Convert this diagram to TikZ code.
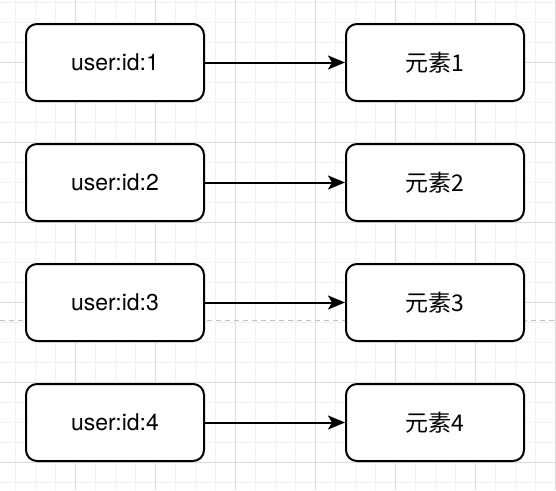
\documentclass[tikz,border=0pt]{standalone}
\usepackage{fontspec}
\usetikzlibrary{arrows.meta}
\setmainfont{TeX Gyre Heros}
\newfontfamily\cjk{Noto Sans CJK SC}
\definecolor{gridminor}{HTML}{F2F2F2}
\definecolor{gridmajor}{HTML}{DCDCDC}
\definecolor{splitgray}{HTML}{C0C0C0}
\begin{document}
\begin{tikzpicture}[
        x=1pt, y=-1pt,
        every node/.style={font=\fontsize{23}{27}\selectfont},
        keybox/.style={rectangle, draw, line width=2pt, rounded corners=11pt,
            minimum width=178pt, minimum height=77pt, align=center},
        valbox/.style={keybox, font=\fontsize{23}{27}\selectfont\cjk},
        arrow/.style={-{Stealth[length=17pt, width=14pt, inset=4pt]}, line width=2pt},
        minorline/.style={draw=gridminor, line width=1pt},
        majorline/.style={draw=gridmajor, line width=1pt}
      ]
      \useasboundingbox (0,0) rectangle (556,490);
      \fill[white] (0,0) rectangle (556,490);

      % grid
      \foreach \x in {15,35,...,555}
        \draw[minorline] (\x,0) -- (\x,490);
      \foreach \y in {2,22,...,482}
        \draw[minorline] (0,\y) -- (556,\y);
      \foreach \x in {75,155,...,555}
        \draw[majorline] (\x,0) -- (\x,490);
      \foreach \y in {62,142,...,462}
        \draw[majorline] (0,\y) -- (556,\y);

      \draw[splitgray, line width=1.3pt, dash pattern=on 5pt off 4pt]
        (0,320.5) -- (556,320.5);

      \foreach \i/\y in {1/62.5, 2/182.5, 3/302.5, 4/422.5}{
          \node[keybox, fill=white] (key\i) at (115,\y) {user:id:\i};
          \node[valbox, fill=white] (val\i) at (435,\y) {元素\i};
          \draw[arrow] (key\i.east) -- (val\i.west);
        }
    \end{tikzpicture}
\end{document}
